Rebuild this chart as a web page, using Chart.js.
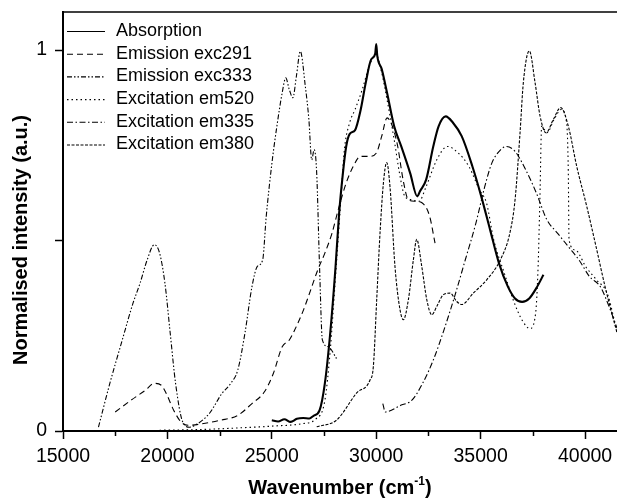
<!DOCTYPE html>
<html>
<head>
<meta charset="utf-8">
<script src="https://cdn.jsdelivr.net/npm/chart.js@4.4.1/dist/chart.umd.min.js"></script>
<style>
  html, body { margin: 0; padding: 0; background: #fff; }
</style>
</head>
<body>
<canvas id="chart" width="617" height="503"></canvas>
<script>
  // values: [wavenumber, normalised intensity]
  const absorption = [
    [25000, 0.028], [25300, 0.025], [25600, 0.031], [25900, 0.024], [26200, 0.032],
    [26500, 0.034], [26800, 0.033], [27000, 0.040], [27285, 0.054], [27540, 0.125],
    [27795, 0.256], [28050, 0.430], [28221, 0.570], [28391, 0.670], [28561, 0.747],
    [28731, 0.780], [28987, 0.790], [29242, 0.840], [29497, 0.914], [29752, 0.975],
    [29950, 0.990], [30000, 1.016], [30050, 0.985], [30263, 0.950], [30518, 0.888],
    [30859, 0.800], [31199, 0.747], [31625, 0.677], [31965, 0.616], [32100, 0.630],
    [32391, 0.660], [32731, 0.747], [32986, 0.800], [33327, 0.826], [33667, 0.810],
    [34093, 0.774], [34603, 0.695], [35029, 0.616], [35454, 0.528], [35880, 0.440],
    [36305, 0.379], [36646, 0.348], [36986, 0.339], [37326, 0.348], [37667, 0.375],
    [38007, 0.410]
  ];

  const emissionExc291 = [
    [17500, 0.050], [18264, 0.081], [18945, 0.107], [19370, 0.125], [19710, 0.120],
    [19950, 0.098], [20306, 0.054], [20647, 0.024], [20987, 0.015], [21668, 0.019],
    [22519, 0.028], [23370, 0.041], [24050, 0.072], [24647, 0.103], [25072, 0.151],
    [25497, 0.221], [25838, 0.239], [26093, 0.265], [26519, 0.318], [26859, 0.370],
    [27200, 0.423], [27540, 0.467], [27880, 0.519], [28221, 0.589], [28561, 0.651],
    [28902, 0.695], [29242, 0.721], [29668, 0.721], [30008, 0.730], [30263, 0.774],
    [30518, 0.822], [30774, 0.800], [31029, 0.747], [31284, 0.660], [31540, 0.607],
    [31880, 0.603], [32221, 0.598], [32561, 0.563], [32816, 0.493]
  ];

  const emissionExc333 = [
    [16698, 0.010], [17243, 0.125], [17839, 0.239], [18349, 0.335], [18690, 0.388],
    [19030, 0.449], [19370, 0.489], [19626, 0.467], [19881, 0.388], [20136, 0.256],
    [20391, 0.125], [20732, 0.024], [21072, 0.010], [21328, 0.015], [22008, 0.046],
    [22604, 0.098], [23030, 0.125], [23370, 0.160], [23710, 0.256], [24050, 0.379],
    [24306, 0.432], [24561, 0.449], [24732, 0.563], [24987, 0.695], [25242, 0.800],
    [25497, 0.888], [25667, 0.927], [25838, 0.896], [26008, 0.875], [26178, 0.932],
    [26365, 0.997], [26604, 0.905], [26774, 0.818], [26910, 0.712], [27029, 0.739],
    [27149, 0.677], [27285, 0.432], [27421, 0.239], [27710, 0.221], [28102, 0.190]
  ];

  const excitationEm520 = [
    [19626, 0.002], [21668, 0.004], [23370, 0.008], [25072, 0.013], [26433, 0.019],
    [27114, 0.032], [27540, 0.080], [27795, 0.210], [28050, 0.405], [28306, 0.607],
    [28476, 0.739], [28731, 0.810], [28987, 0.844], [29327, 0.896], [29668, 0.958],
    [29974, 0.990], [30263, 0.940], [30518, 0.870], [30859, 0.765], [31114, 0.677],
    [31369, 0.616], [31710, 0.607], [32050, 0.603], [32391, 0.642], [32901, 0.712],
    [33412, 0.747], [33923, 0.730], [34433, 0.695], [34944, 0.633], [35284, 0.598],
    [35625, 0.502], [36135, 0.414], [36561, 0.344], [36986, 0.291], [37360, 0.269],
    [37633, 0.309], [37752, 0.432], [37837, 0.607], [37922, 0.800], [38178, 0.783],
    [38518, 0.818], [38858, 0.844], [39113, 0.810], [39199, 0.677], [39233, 0.502],
    [39539, 0.475], [40050, 0.430], [40560, 0.396], [41071, 0.360], [41530, 0.260]
  ];

  const excitationEm335 = [
    [30314, 0.072], [30433, 0.050], [31199, 0.068], [31710, 0.081], [32221, 0.125],
    [32731, 0.186], [33242, 0.265], [33752, 0.353], [34263, 0.449], [34774, 0.546],
    [35199, 0.642], [35540, 0.704], [35965, 0.739], [36220, 0.747], [36646, 0.734],
    [37156, 0.686], [37667, 0.625], [38178, 0.554], [38688, 0.519], [39199, 0.484],
    [39709, 0.449], [40220, 0.405], [40730, 0.379], [41156, 0.326], [41530, 0.270]
  ];

  const excitationEm380 = [
    [27150, 0.011], [28108, 0.029], [29065, 0.100], [29703, 0.134], [29863, 0.170],
    [30023, 0.345], [30182, 0.520], [30342, 0.650], [30502, 0.705], [30661, 0.640],
    [30900, 0.430], [31140, 0.318], [31300, 0.292], [31540, 0.345], [31780, 0.450],
    [31940, 0.503], [32180, 0.432], [32420, 0.345], [32660, 0.305], [32900, 0.327],
    [33215, 0.358], [33535, 0.362], [33855, 0.340], [34095, 0.332], [34650, 0.362],
    [35290, 0.397], [35950, 0.450], [36400, 0.520], [36650, 0.608], [36887, 0.783],
    [37045, 0.915], [37333, 0.998], [37605, 0.915], [37845, 0.827], [38132, 0.783],
    [38482, 0.818], [38835, 0.849], [39200, 0.800], [39600, 0.695], [40080, 0.590],
    [40560, 0.476], [40958, 0.379], [41278, 0.310], [41530, 0.258]
  ];

  const seriesLabels = [
    'Absorption', 'Emission exc291', 'Emission exc333',
    'Excitation em520', 'Excitation em335', 'Excitation em380'
  ];
  const majorTicksX = [15000, 20000, 25000, 30000, 35000, 40000];
  const minorTicksX = [17500, 22500, 27500, 32500, 37500];
  const ticksY = [0, 0.5, 1];
  const tickLabelsY = ['0', '', '1'];

  const FONT = '"Liberation Sans", Arial, Helvetica, sans-serif';

  function toPoints(pairs) {
    return pairs.map(p => ({ x: p[0], y: p[1] }));
  }

  function makeDataset(label, pairs, dash, width) {
    return {
      label: label,
      data: toPoints(pairs),
      borderColor: '#000',
      borderWidth: width,
      borderDash: dash,
      pointRadius: 0,
      fill: false,
      cubicInterpolationMode: 'monotone'
    };
  }

  // legend, axis titles, top frame and minor ticks
  const decorations = {
    id: 'decorations',
    afterDraw(chart) {
      const { ctx, chartArea, scales } = chart;
      ctx.save();
      ctx.strokeStyle = '#000';
      ctx.fillStyle = '#000';

      // top frame
      ctx.lineWidth = 1.5;
      ctx.beginPath();
      ctx.moveTo(chartArea.left, chartArea.top);
      ctx.lineTo(chartArea.right, chartArea.top);
      ctx.stroke();

      // minor ticks on x
      minorTicksX.forEach(v => {
        const px = Math.round(scales.x.getPixelForValue(v)) + 0.5;
        ctx.beginPath();
        ctx.moveTo(px, chartArea.bottom);
        ctx.lineTo(px, chartArea.bottom + 5);
        ctx.stroke();
      });

      // legend
      ctx.font = '18px ' + FONT;
      ctx.textBaseline = 'middle';
      ctx.textAlign = 'left';
      chart.data.datasets.forEach((ds, i) => {
        const y = 31 + i * 22.7;
        ctx.lineWidth = 1.1;
        ctx.setLineDash(ds.borderDash || []);
        ctx.beginPath();
        ctx.moveTo(chartArea.left + 4, y + 0.5);
        ctx.lineTo(chartArea.left + 42, y + 0.5);
        ctx.stroke();
        ctx.setLineDash([]);
        ctx.fillText(ds.label, chartArea.left + 53, y);
      });

      // x title with superscript
      const cx = (chartArea.left + chartArea.right) / 2;
      const main = 'Wavenumber (cm';
      const sup = '-1';
      ctx.font = 'bold 20px ' + FONT;
      const wMain = ctx.measureText(main).width;
      const wClose = ctx.measureText(')').width;
      ctx.font = 'bold 12px ' + FONT;
      const wSup = ctx.measureText(sup).width;
      const total = wMain + wSup + wClose;
      const x0 = cx - total / 2;
      ctx.textBaseline = 'alphabetic';
      ctx.font = 'bold 20px ' + FONT;
      ctx.fillText(main, x0, 494);
      ctx.font = 'bold 12px ' + FONT;
      ctx.fillText(sup, x0 + wMain, 485);
      ctx.font = 'bold 20px ' + FONT;
      ctx.fillText(')', x0 + wMain + wSup, 494);

      // y title
      ctx.translate(21, 240);
      ctx.rotate(-Math.PI / 2);
      ctx.textAlign = 'center';
      ctx.textBaseline = 'middle';
      ctx.fillText('Normalised intensity (a.u.)', 0, 0);
      ctx.restore();
    }
  };

  const ctx = document.getElementById('chart').getContext('2d');
  new Chart(ctx, {
    type: 'line',
    data: {
      datasets: [
        makeDataset(seriesLabels[0], absorption, [], 2.1),
        makeDataset(seriesLabels[1], emissionExc291, [6, 4], 1.1),
        makeDataset(seriesLabels[2], emissionExc333, [5, 2, 1.5, 2, 1.5, 2], 1.1),
        makeDataset(seriesLabels[3], excitationEm520, [1.5, 3], 1.1),
        makeDataset(seriesLabels[4], excitationEm335, [6, 2.5, 1.5, 2.5], 1.1),
        makeDataset(seriesLabels[5], excitationEm380, [3, 1.5], 1.1)
      ]
    },
    options: {
      responsive: false,
      animation: false,
      layout: { padding: { top: 12, right: 0, left: 0, bottom: 0 }, autoPadding: false },
      plugins: {
        legend: { display: false },
        tooltip: { enabled: false }
      },
      scales: {
        x: {
          type: 'linear',
          min: 15000,
          max: 41530,
          afterFit: scale => {
            scale.height = 72;
            scale.paddingLeft = 0;
            scale.paddingRight = 0;
          },
          afterBuildTicks: scale => { scale.ticks = majorTicksX.map(v => ({ value: v })); },
          ticks: {
            autoSkip: false,
            maxRotation: 0,
            padding: 6,
            color: '#000',
            font: { family: FONT, size: 19.5 },
            callback: v => String(v)
          },
          grid: {
            drawOnChartArea: false,
            drawTicks: true,
            tickLength: 8,
            tickColor: '#000',
            tickWidth: 1.5
          },
          border: { display: true, color: '#000', width: 2 }
        },
        y: {
          min: 0,
          max: 1.1,
          afterFit: scale => {
            scale.width = 63;
            scale.paddingTop = 0;
            scale.paddingBottom = 0;
          },
          afterBuildTicks: scale => { scale.ticks = ticksY.map(v => ({ value: v })); },
          ticks: {
            padding: 8,
            color: '#000',
            font: { family: FONT, size: 19.5 },
            callback: (v, i) => tickLabelsY[i]
          },
          grid: {
            drawOnChartArea: false,
            drawTicks: true,
            tickLength: 8,
            tickColor: '#000',
            tickWidth: 1.5
          },
          border: { display: true, color: '#000', width: 2 }
        }
      }
    },
    plugins: [decorations]
  });
</script>
</body>
</html>
